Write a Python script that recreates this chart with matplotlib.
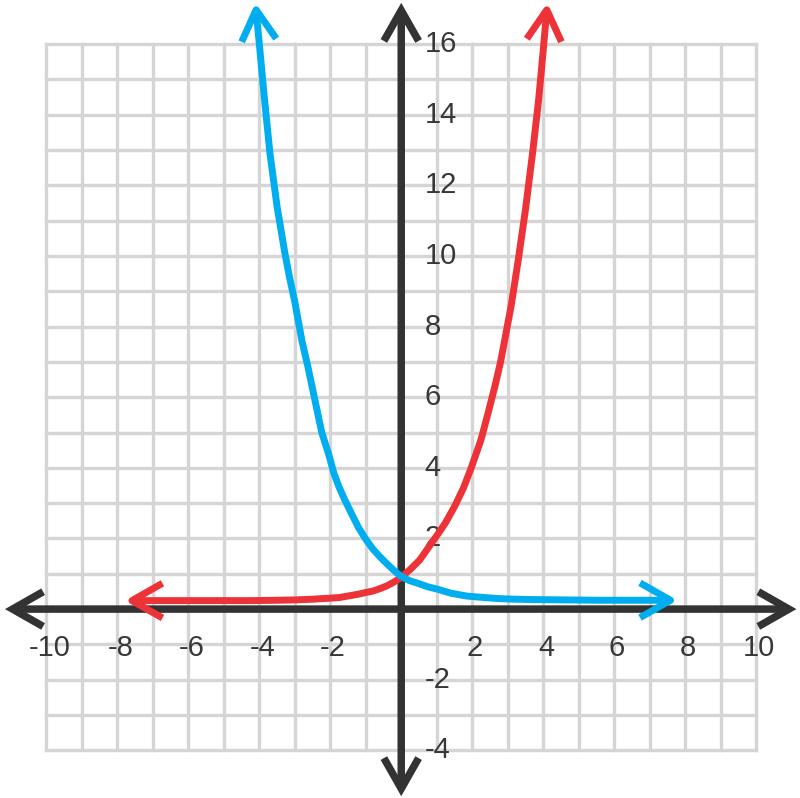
import matplotlib
matplotlib.use("Agg")
from matplotlib import pyplot as plt
from matplotlib.patches import FancyArrowPatch
from matplotlib.path import Path
import numpy as np

# kasvava kayra (punainen), luettu kuvasta
red_x = [-7.79, -6.0, -5.0, -4.2, -3.5, -3.0, -2.5, -2.0, -1.73, -1.5, -1.17,
         -1.0, -0.8, -0.6, -0.4, -0.2, 0.0, 0.25, 0.52, 0.75, 1.05, 1.25, 1.5,
         1.75, 1.98, 2.25, 2.46, 2.65, 2.8, 2.95, 3.1, 3.3, 3.5, 3.7, 3.87,
         4.0, 4.12]
red_y = [0.24, 0.24, 0.24, 0.24, 0.25, 0.26, 0.28, 0.31, 0.33, 0.37, 0.43,
         0.47, 0.51, 0.58, 0.66, 0.77, 0.9, 1.12, 1.39, 1.72, 2.15, 2.45, 2.9,
         3.42, 4.02, 4.8, 5.6, 6.35, 7.0, 7.8, 8.6, 9.9, 11.3, 12.9, 14.4,
         15.8, 17.17]

# vaheneva kayra (sininen), luettu kuvasta
blue_x = [-4.11, -4.0, -3.87, -3.7, -3.5, -3.28, -3.15, -3.0, -2.8, -2.63,
          -2.45, -2.24, -2.05, -1.9, -1.75, -1.59, -1.4, -1.2, -1.0, -0.8,
          -0.6, -0.4, -0.2, 0.0, 0.25, 0.5, 0.75, 1.0, 1.4, 1.84, 2.3, 2.7,
          3.2, 3.7, 4.6, 5.6, 7.79]
blue_y = [17.17, 16.0, 14.6, 12.9, 11.4, 10.08, 9.4, 8.7, 7.6, 6.86,
          6.0, 5.0, 4.4, 3.85, 3.45, 3.09, 2.7, 2.3, 1.98, 1.7,
          1.48, 1.28, 1.09, 0.92, 0.8, 0.72, 0.63, 0.57, 0.45, 0.37, 0.33, 0.3,
          0.28, 0.27, 0.26, 0.25, 0.25]

x_ticks = [-10, -8, -6, -4, -2, 2, 4, 6, 8, 10]
y_ticks = [-4, -2, 2, 4, 6, 8, 10, 12, 14, 16]

grid_x = list(range(-10, 11))
grid_y = list(range(-4, 17))

GRID = "#d5d5d6"
AXIS = "#333333"
RED = "#ee3338"
BLUE = "#00aeef"
HEAD = "<->,head_length=22,head_width=12.5"

fig = plt.figure(figsize=(8, 7.98), dpi=100)
ax = fig.add_axes([0, 0, 1, 1])
ax.set_xlim(-11.31, 11.24)
ax.set_ylim(-5.35, 17.25)
ax.axis("off")

# ruudukko
for gx in grid_x:
    ax.plot([gx, gx], [grid_y[0], grid_y[-1]], color=GRID, lw=2.4,
            solid_capstyle="projecting", zorder=1)
for gy in grid_y:
    ax.plot([grid_x[0], grid_x[-1]], [gy, gy], color=GRID, lw=2.4,
            solid_capstyle="projecting", zorder=1)

# akselit nuolineen
for a, b in [((-11.17, 0), (11.14, 0)), ((0, -5.3), (0, 17.17))]:
    ax.add_patch(FancyArrowPatch(a, b, arrowstyle=HEAD, color=AXIS, lw=5.4,
                                 shrinkA=0, shrinkB=0, joinstyle="miter",
                                 capstyle="butt", zorder=3))

# akselien numerot
for t in x_ticks:
    ax.text(t + 0.08, -1.1, str(t), ha="center", va="center", fontsize=21,
            family="Liberation Sans", color="#383838", zorder=2)
for t in y_ticks:
    ax.text(0.65, t, str(t), ha="left", va="center", fontsize=21,
            family="Liberation Sans", color="#383838", zorder=2)

# kayrat
for xs, ys, col, z in [(red_x, red_y, RED, 4), (blue_x, blue_y, BLUE, 5)]:
    polku = Path(np.column_stack([xs, ys]))
    ax.add_patch(FancyArrowPatch(path=polku, arrowstyle=HEAD, color=col,
                                 lw=5.0, joinstyle="round", capstyle="butt",
                                 transform=ax.transData, zorder=z))

fig.savefig("out.png", dpi=100)
